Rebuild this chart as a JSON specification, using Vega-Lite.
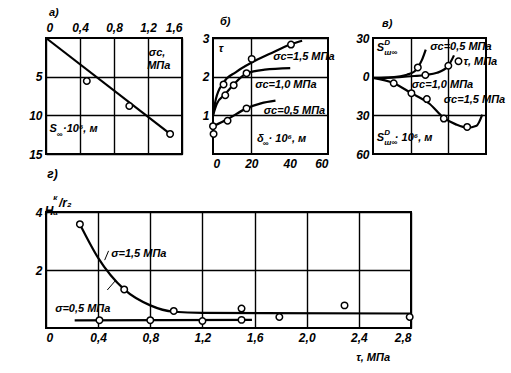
{
  "$schema": "https://vega.github.io/schema/vega-lite/v6.json",
  "padding": {"left": 27, "top": 6, "right": 5, "bottom": 5},
  "background": "white",
  "bounds": "flush",
  "spacing": 174,
  "vconcat": [
    {
      "bounds": "flush",
      "spacing": 31,
      "hconcat": [
        {
          "width": 136, "height": 116,
          "encoding": {
            "x": {"field": "x", "type": "quantitative", "title": null,
              "scale": {"domain": [0, 1.6], "nice": false, "zero": false},
              "axis": {"orient": "top", "values": [0, 0.4, 0.8, 1.2, 1.6], "grid": true,
                "labelExpr": "datum.value == 0 ? '0' : replace(format(datum.value, '.1f'), '.', ',')"}},
            "y": {"field": "y", "type": "quantitative", "title": null,
              "scale": {"domain": [0, 15], "reverse": true, "nice": false, "zero": false},
              "axis": {"values": [5, 10, 15], "grid": true}}
          },
          "layer": [
            {"data": {"values": [{"x": 0, "y": 0}, {"x": 1.46, "y": 12.4}]},
             "mark": {"type": "line", "color": "black", "strokeWidth": 2.2}},
            {"data": {"values": [{"x": 0.48, "y": 5.56}, {"x": 0.98, "y": 8.8}, {"x": 1.46, "y": 12.4}]},
             "mark": {"type": "point", "shape": "circle", "filled": true, "fill": "white", "stroke": "black", "strokeWidth": 1.5, "size": 42, "opacity": 1}},
            {"data": {"values": [
              {"x": 0.035, "y": -3.2, "t": "а)"},
              {"x": 1.21, "y": 1.9, "t": "σc,"},
              {"x": 1.19, "y": 3.6, "t": "МПа"},
              {"x": 0.04, "y": 11.8, "t": "S"},
              {"x": 0.2, "y": 11.8, "t": "·10⁶, м"}
            ]},
             "mark": {"type": "text"}, "encoding": {"text": {"field": "t"}}},
            {"data": {"values": [{"x": 0.125, "y": 12.5, "t": "∞"}]},
             "mark": {"type": "text", "fontSize": 8}, "encoding": {"text": {"field": "t"}}}
          ]
        },
        {
          "bounds": "flush",
          "spacing": 45,
          "hconcat": [
            {
              "width": 115, "height": 116,
              "encoding": {
                "x": {"field": "x", "type": "quantitative", "title": null,
                  "scale": {"domain": [0, 60], "nice": false, "zero": false},
                  "axis": {"values": [0, 20, 40, 60], "grid": true,
                    "gridOpacity": {"condition": {"test": "datum.value == 20", "value": 1}, "value": 0}}},
                "y": {"field": "y", "type": "quantitative", "title": null,
                  "scale": {"domain": [0, 3], "nice": false, "zero": false},
                  "axis": {"values": [1, 2, 3], "grid": true}}
              },
              "layer": [
                {"data": {"values": [
                  {"s": "0.5", "x": 0, "y": 0.72}, {"s": "0.5", "x": 7.6, "y": 0.9}, {"s": "0.5", "x": 17.5, "y": 1.18}, {"s": "0.5", "x": 25, "y": 1.31}, {"s": "0.5", "x": 32.6, "y": 1.38},
                  {"s": "1.0", "x": 0, "y": 1.0}, {"s": "1.0", "x": 2, "y": 1.3}, {"s": "1.0", "x": 6.4, "y": 1.55}, {"s": "1.0", "x": 10.8, "y": 1.8}, {"s": "1.0", "x": 17.5, "y": 2.08}, {"s": "1.0", "x": 27, "y": 2.18}, {"s": "1.0", "x": 40.3, "y": 2.22},
                  {"s": "1.5", "x": 0, "y": 1.0}, {"s": "1.5", "x": 1.5, "y": 1.42}, {"s": "1.5", "x": 5.5, "y": 1.85}, {"s": "1.5", "x": 12, "y": 2.12}, {"s": "1.5", "x": 20, "y": 2.36}, {"s": "1.5", "x": 30, "y": 2.6}, {"s": "1.5", "x": 40.7, "y": 2.84}, {"s": "1.5", "x": 46.5, "y": 2.93}
                ]},
                 "mark": {"type": "line", "color": "black", "strokeWidth": 2.2, "interpolate": "monotone"},
                 "encoding": {"detail": {"field": "s"}}},
                {"data": {"values": [
                  {"x": 0, "y": 0.72}, {"x": 0.3, "y": 0.52}, {"x": 7.6, "y": 0.86}, {"x": 17.5, "y": 1.18},
                  {"x": 5.5, "y": 1.8}, {"x": 6.4, "y": 1.52}, {"x": 10.8, "y": 1.78}, {"x": 17.5, "y": 2.09},
                  {"x": 20.2, "y": 2.46}, {"x": 40.7, "y": 2.83}
                ]},
                 "mark": {"type": "point", "shape": "circle", "filled": true, "fill": "white", "stroke": "black", "strokeWidth": 1.5, "size": 42, "opacity": 1}},
                {"data": {"values": [
                  {"x": 3.6, "y": 3.42, "t": "б)"},
                  {"x": 3, "y": 2.72, "t": "τ"},
                  {"x": 31.4, "y": 2.5, "t": "σc=1,5 МПа"},
                  {"x": 22, "y": 1.79, "t": "σc=1,0 МПа"},
                  {"x": 26.5, "y": 1.1, "t": "σc=0,5 МПа"},
                  {"x": 23, "y": 0.38, "t": "δ"},
                  {"x": 29, "y": 0.38, "t": "· 10⁶, м"}
                ]},
                 "mark": {"type": "text"}, "encoding": {"text": {"field": "t"}}},
                {"data": {"values": [{"x": 26, "y": 0.27, "t": "∞"}]},
                 "mark": {"type": "text", "fontSize": 8}, "encoding": {"text": {"field": "t"}}}
              ]
            },
            {
              "width": 113, "height": 116,
              "encoding": {
                "x": {"field": "x", "type": "quantitative", "title": null,
                  "scale": {"domain": [0, 3], "nice": false, "zero": false},
                  "axis": {"values": [1, 2], "grid": true, "labels": false}},
                "y": {"field": "y", "type": "quantitative", "title": null,
                  "scale": {"domain": [-60, 30], "nice": false, "zero": false},
                  "axis": {"values": [30, 0, -30, -60], "grid": true,
                    "gridOpacity": {"condition": {"test": "datum.value == -30", "value": 1}, "value": 0},
                    "labelExpr": "format(abs(datum.value), 'd')"}}
              },
              "layer": [
                {"data": {"values": [
                  {"s": "0.5", "x": 0, "y": -1}, {"s": "0.5", "x": 0.5, "y": -0.5}, {"s": "0.5", "x": 0.9, "y": 1.5}, {"s": "0.5", "x": 1.1, "y": 4}, {"s": "0.5", "x": 1.19, "y": 7.2}, {"s": "0.5", "x": 1.3, "y": 13}, {"s": "0.5", "x": 1.4, "y": 21},
                  {"s": "1.0", "x": 0, "y": -1}, {"s": "1.0", "x": 0.7, "y": -0.3}, {"s": "1.0", "x": 1.1, "y": 0.5}, {"s": "1.0", "x": 1.39, "y": 1.3}, {"s": "1.0", "x": 1.7, "y": 3}, {"s": "1.0", "x": 2.0, "y": 8.5}, {"s": "1.0", "x": 2.15, "y": 16.5},
                  {"s": "1.5", "x": 0, "y": -1}, {"s": "1.5", "x": 0.55, "y": -5.1}, {"s": "1.5", "x": 1.02, "y": -12.8}, {"s": "1.5", "x": 1.5, "y": -21}, {"s": "1.5", "x": 1.88, "y": -32}, {"s": "1.5", "x": 2.2, "y": -37}, {"s": "1.5", "x": 2.5, "y": -39.5}, {"s": "1.5", "x": 2.75, "y": -38}, {"s": "1.5", "x": 2.9, "y": -29.5}
                ]},
                 "mark": {"type": "line", "color": "black", "strokeWidth": 2.2, "interpolate": "monotone"},
                 "encoding": {"detail": {"field": "s"}}},
                {"data": {"values": [
                  {"x": 0.55, "y": -5.1}, {"x": 1.02, "y": -12.8}, {"x": 1.43, "y": -17.4}, {"x": 1.88, "y": -32.5}, {"x": 2.5, "y": -39},
                  {"x": 1.19, "y": 7.2}, {"x": 1.39, "y": 1.3}, {"x": 2.0, "y": 8.5}, {"x": 2.27, "y": 12}
                ]},
                 "mark": {"type": "point", "shape": "circle", "filled": true, "fill": "white", "stroke": "black", "strokeWidth": 1.5, "size": 42, "opacity": 1}},
                {"data": {"values": [
                  {"x": 0.24, "y": 40.5, "t": "в)"},
                  {"x": 0.1, "y": 22, "t": "S"},
                  {"x": 1.52, "y": 23, "t": "σc=0,5 МПа"},
                  {"x": 2.4, "y": 11.5, "t": "τ, МПа"},
                  {"x": 1.03, "y": -6.4, "t": "σc=1,0 МПа"},
                  {"x": 1.88, "y": -18, "t": "σc=1,5 МПа"},
                  {"x": 0.1, "y": -47.5, "t": "S"},
                  {"x": 0.58, "y": -47.5, "t": "· 10⁶, м"}
                ]},
                 "mark": {"type": "text"}, "encoding": {"text": {"field": "t"}}},
                {"data": {"values": [
                  {"x": 0.3, "y": 26.5, "t": "D"}, {"x": 0.3, "y": 18, "t": "ш∞"},
                  {"x": 0.3, "y": -43.5, "t": "D"}, {"x": 0.3, "y": -51.5, "t": "ш∞"}
                ]},
                 "mark": {"type": "text", "fontSize": 8}, "encoding": {"text": {"field": "t"}}}
              ]
            }
          ]
        }
      ]
    },
    {
      "width": 365, "height": 116,
      "encoding": {
        "x": {"field": "x", "type": "quantitative", "title": null,
          "scale": {"domain": [0, 2.8], "nice": false, "zero": false},
          "axis": {"values": [0, 0.4, 0.8, 1.2, 1.6, 2.0, 2.4, 2.8], "grid": true,
            "labelExpr": "datum.value == 0 ? '0' : replace(format(datum.value, '.1f'), '.', ',')"}},
        "y": {"field": "y", "type": "quantitative", "title": null,
          "scale": {"domain": [0, 4], "nice": false, "zero": false},
          "axis": {"values": [2, 4], "grid": true}}
      },
      "layer": [
        {"data": {"values": [
          {"s": "1.5", "x": 0.26, "y": 3.58}, {"s": "1.5", "x": 0.4, "y": 2.42}, {"s": "1.5", "x": 0.6, "y": 1.33}, {"s": "1.5", "x": 0.8, "y": 0.78}, {"s": "1.5", "x": 0.98, "y": 0.56}, {"s": "1.5", "x": 1.2, "y": 0.52}, {"s": "1.5", "x": 2.8, "y": 0.5},
          {"s": "0.5", "x": 0.22, "y": 0.26}, {"s": "0.5", "x": 1.58, "y": 0.28}
        ]},
         "mark": {"type": "line", "color": "black", "strokeWidth": 2.2, "interpolate": "monotone"},
         "encoding": {"detail": {"field": "s"}}},
        {"data": {"values": [
          {"s": "l1", "x": 0.48, "y": 2.66}, {"s": "l1", "x": 0.45, "y": 2.34},
          {"s": "l2", "x": 0.47, "y": 1.31}, {"s": "l2", "x": 0.53, "y": 1.62}
        ]},
         "mark": {"type": "line", "color": "black", "strokeWidth": 1},
         "encoding": {"detail": {"field": "s"}}},
        {"data": {"values": [
          {"x": 0.26, "y": 3.58}, {"x": 0.6, "y": 1.33}, {"x": 0.98, "y": 0.59}, {"x": 1.5, "y": 0.67},
          {"x": 1.79, "y": 0.38}, {"x": 2.29, "y": 0.78}, {"x": 2.79, "y": 0.38},
          {"x": 0.41, "y": 0.27}, {"x": 0.8, "y": 0.27}, {"x": 1.2, "y": 0.24}, {"x": 1.5, "y": 0.28}
        ]},
         "mark": {"type": "point", "shape": "circle", "filled": true, "fill": "white", "stroke": "black", "strokeWidth": 1.5, "size": 42, "opacity": 1}},
        {"data": {"values": [
          {"x": 0.01, "y": 5.3, "t": "г)"},
          {"x": -0.01, "y": 4.05, "t": "H"},
          {"x": 0.1, "y": 4.3, "t": "/r₂"}
        ]},
         "mark": {"type": "text", "fontSize": 12}, "encoding": {"text": {"field": "t"}}},
        {"data": {"values": [
          {"x": 0.5, "y": 2.55, "t": "σ=1,5 МПа"},
          {"x": 0.07, "y": 0.65, "t": "σ=0,5 МПа"},
          {"x": 2.38, "y": -1.03, "t": "τ, МПа"}
        ]},
         "mark": {"type": "text"}, "encoding": {"text": {"field": "t"}}},
        {"data": {"values": [{"x": 0.055, "y": 3.95, "t": "а"}, {"x": 0.055, "y": 4.5, "t": "к"}]},
         "mark": {"type": "text", "fontSize": 8}, "encoding": {"text": {"field": "t"}}}
      ]
    }
  ],
  "config": {
    "view": {"stroke": "black", "strokeWidth": 2},
    "axis": {"ticks": false, "domain": false, "gridColor": "black", "gridWidth": 1.4, "gridOpacity": 1,
      "labelFont": "Liberation Sans", "labelFontSize": 12,
      "labelFontStyle": "italic", "labelFontWeight": "bold", "labelColor": "black", "labelPadding": 4},
    "text": {"font": "Liberation Sans", "fontSize": 11,
      "fontStyle": "italic", "fontWeight": "bold", "color": "black", "align": "left", "baseline": "middle"}
  }
}
